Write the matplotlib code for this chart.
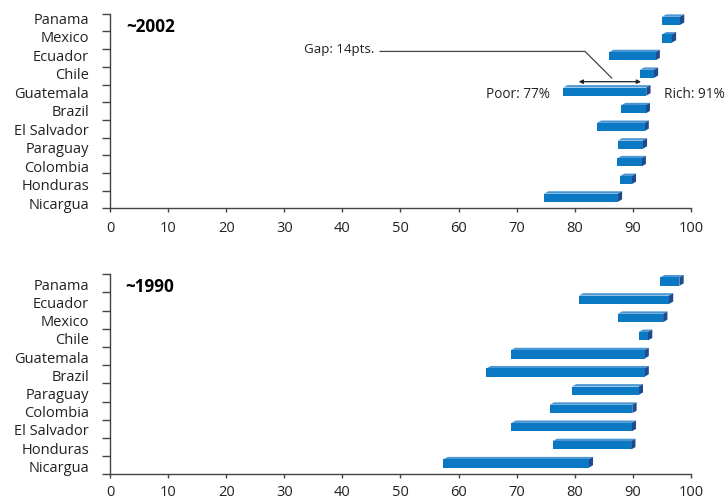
import numpy as np
import matplotlib
matplotlib.use("Agg")
import matplotlib.pyplot as plt
from matplotlib.patches import Rectangle, Polygon

plt.rcParams['font.family'] = ['Open Sans', 'DejaVu Sans']

# ~2002 panel, listed top to bottom
countries_2002 = ["Panama", "Mexico", "Ecuador", "Chile", "Guatemala", "Brazil",
                  "El Salvador", "Paraguay", "Colombia", "Honduras", "Nicargua"]
poor_2002 = [95.0, 95.0, 85.9, 91.2, 78.0, 88.0, 83.8, 87.4, 87.3, 87.8, 74.7]
rich_2002 = [98.1, 96.7, 93.9, 93.6, 92.3, 92.2, 92.0, 91.7, 91.5, 89.8, 87.4]

# ~1990 panel, listed top to bottom
countries_1990 = ["Panama", "Ecuador", "Mexico", "Chile", "Guatemala", "Brazil",
                  "Paraguay", "Colombia", "El Salvador", "Honduras", "Nicargua"]
poor_1990 = [94.7, 80.7, 87.4, 91.0, 69.0, 64.8, 79.5, 75.7, 69.1, 76.2, 57.4]
rich_1990 = [98.0, 96.2, 95.2, 92.6, 92.0, 92.0, 91.0, 89.9, 89.8, 89.7, 82.4]

xticks = [0, 10, 20, 30, 40, 50, 60, 70, 80, 90, 100]

FRONT = '#0a78c2'
TOP = '#4a97d4'
SIDE = '#1f4a8e'
AXC = '#444444'
TXT = '#222222'

fig = plt.figure(figsize=(7.25, 5.02), dpi=100)


def setup(ax, labels, label_pos, xpad):
    n = len(labels)
    ax.set_xlim(0, 100)
    ax.set_ylim(-0.5, n - 0.5)
    for s in ['top', 'right']:
        ax.spines[s].set_visible(False)
    for s in ['left', 'bottom']:
        ax.spines[s].set_color(AXC)
        ax.spines[s].set_linewidth(1.0)
    ax.set_xticks(xticks)
    ax.tick_params(axis='x', direction='out', length=3, width=1, color=AXC,
                   labelsize=10.5, labelcolor=TXT, pad=xpad)
    ax.set_yticks(label_pos)
    ax.set_yticklabels(labels)
    ax.tick_params(axis='y', which='major', length=0, pad=15,
                   labelsize=10.5, labelcolor=TXT)
    ax.set_yticks(np.arange(n + 1) - 0.5, minor=True)
    ax.tick_params(axis='y', which='minor', direction='out', length=6,
                   width=1, color=AXC)


def draw_bars(ax, poor, rich, px_per_y):
    n = len(poor)
    h = 0.46
    dx = 4.3 / 5.81
    dy = 2.4 / px_per_y
    for k in range(n):
        y = n - 1 - k + 0.1
        s, e = poor[k], rich[k]
        y0, y1 = y - h / 2, y + h / 2
        ax.add_patch(Polygon([(s, y1), (s + dx, y1 + dy), (e + dx, y1 + dy), (e, y1)],
                             closed=True, facecolor=TOP, edgecolor='none', clip_on=False))
        ax.add_patch(Polygon([(e, y0), (e + dx, y0 + dy), (e + dx, y1 + dy), (e, y1)],
                             closed=True, facecolor=SIDE, edgecolor='none', clip_on=False))
        ax.add_patch(Rectangle((s, y0), e - s, h, facecolor=FRONT,
                               edgecolor='none', clip_on=False))


# top panel (~2002)
ax1 = fig.add_axes([0.1517, 0.583, 0.8014, 0.3876])
lab_top = [10.31 - k * 1.046 for k in range(11)]
setup(ax1, countries_2002, lab_top, 5.5)
draw_bars(ax1, poor_2002, rich_2002, 17.69)
ax1.text(2.75, 9.83, "~2002", fontsize=12.3, fontweight='bold', va='center', ha='left')
ax1.text(33.4, 8.56, "Gap: 14pts.", fontsize=9.6, va='center', ha='left', color=TXT)
ax1.plot([46.5, 81.76, 86.35], [8.37, 8.37, 6.87], color=AXC, lw=0.9)
ax1.annotate("", xy=(80.67, 6.66), xytext=(91.4, 6.66),
             arrowprops=dict(arrowstyle='<|-|>', color=TXT, lw=0.9,
                             mutation_scale=6, shrinkA=0, shrinkB=0))
ax1.text(75.7, 6.0, "Poor: 77%", fontsize=9.8, va='center', ha='right', color=TXT)
ax1.text(95.35, 6.02, "Rich: 91%", fontsize=9.8, va='center', ha='left', color=TXT)

# bottom panel (~1990)
ax2 = fig.add_axes([0.1517, 0.053, 0.8014, 0.3986])
lab_bot = [10 - k for k in range(11)]
setup(ax2, countries_1990, lab_bot, 4)
draw_bars(ax2, poor_1990, rich_1990, 18.2)
ax2.text(2.6, 9.88, "~1990", fontsize=12.3, fontweight='bold', va='center', ha='left')

fig.savefig("out.png", dpi=100)
